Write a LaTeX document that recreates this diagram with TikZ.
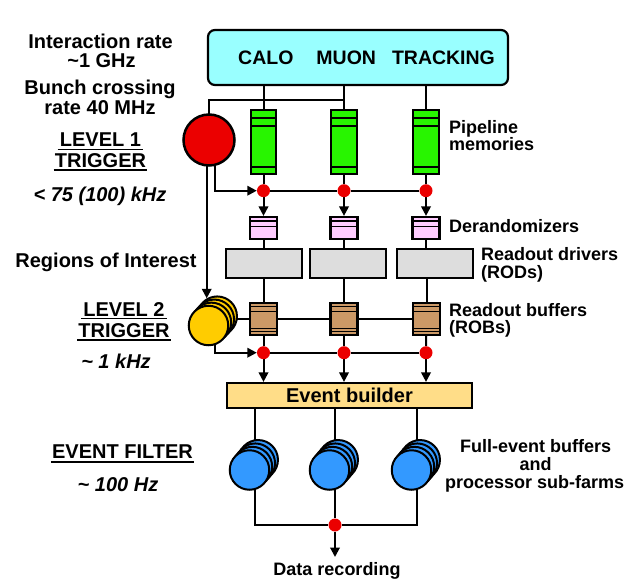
\documentclass[tikz,border=0pt]{standalone}
\usepackage{fontspec}
\setmainfont{Liberation Sans}
\usetikzlibrary{arrows.meta,calc}
\definecolor{detcyan}{RGB}{153,255,255}
\definecolor{pipegreen}{RGB}{40,245,0}
\definecolor{trigred}{RGB}{235,0,0}
\definecolor{derpink}{RGB}{255,204,255}
\definecolor{rodgray}{RGB}{221,221,221}
\definecolor{robbrown}{RGB}{204,153,102}
\definecolor{trigyellow}{RGB}{255,204,0}
\definecolor{ebfill}{RGB}{255,221,136}
\definecolor{farmblue}{RGB}{51,153,255}
\pgfdeclarelayer{bg}
\pgfsetlayers{bg,main}
\tikzset{
  conn/.style={line width=2pt},
  arr/.style={line width=2pt, -{Triangle[length=9.5pt,width=9.5pt]}},
  box/.style={draw, line width=2.2pt, inner sep=0pt},
  topbox/.style={box, fill=detcyan, rounded corners=7pt, minimum width=300pt, minimum height=55pt},
  pipe/.style={box, fill=pipegreen, minimum width=25.5pt, minimum height=64pt,
    path picture={
      \draw[line width=1.6pt] ([yshift=-8pt]path picture bounding box.north west) -- ([yshift=-8pt]path picture bounding box.north east);
      \draw[line width=1.6pt] ([yshift=-16pt]path picture bounding box.north west) -- ([yshift=-16pt]path picture bounding box.north east);
      \draw[line width=1.6pt] ([yshift=7pt]path picture bounding box.south west) -- ([yshift=7pt]path picture bounding box.south east);
    }},
  derand/.style={box, fill=derpink, minimum width=27pt, minimum height=22pt,
    path picture={
      \draw[line width=1.4pt] ([yshift=-4pt]path picture bounding box.north west) -- ([yshift=-4pt]path picture bounding box.north east);
      \draw[line width=1.4pt] ([yshift=-9.5pt]path picture bounding box.north west) -- ([yshift=-9.5pt]path picture bounding box.north east);
    }},
  rod/.style={box, fill=rodgray, minimum width=76pt, minimum height=29pt},
  rob/.style={box, fill=robbrown, minimum width=27pt, minimum height=32pt,
    path picture={
      \draw[line width=1.2pt] ([yshift=-4pt]path picture bounding box.north west) -- ([yshift=-4pt]path picture bounding box.north east);
      \draw[line width=1.2pt] ([yshift=-8.5pt]path picture bounding box.north west) -- ([yshift=-8.5pt]path picture bounding box.north east);
      \draw[line width=1.2pt] ([yshift=6pt]path picture bounding box.south west) -- ([yshift=6pt]path picture bounding box.south east);
      \draw[line width=1.2pt] ([yshift=3.5pt]path picture bounding box.south west) -- ([yshift=3.5pt]path picture bounding box.south east);
    }},
  ebox/.style={box, fill=ebfill, minimum width=245pt, minimum height=25pt, font=\fontsize{20}{22}\selectfont\bfseries},
  dot/.style={circle, fill=trigred, minimum size=13pt, inner sep=0pt},
  l1circ/.style={circle, draw, line width=2.5pt, fill=trigred, minimum size=51pt, inner sep=0pt},
  stackc/.style={circle, draw, line width=2pt, minimum size=39.5pt, inner sep=0pt},
  L/.style={font=\fontsize{20}{22}\selectfont\bfseries, inner sep=0pt, anchor=base},
  LI/.style={font=\fontsize{20}{22}\selectfont\bfseries\itshape, inner sep=0pt, anchor=base},
  R/.style={font=\fontsize{18}{20}\selectfont\bfseries, inner sep=0pt, anchor=base west},
  RC/.style={font=\fontsize{18}{20}\selectfont\bfseries, inner sep=0pt, anchor=base},
  ulline/.style={line width=1.5pt}
}
\newcommand\mystack[5]{%
  \foreach \kk in {3,2,1} {\node[stackc, fill=#4] (#1-\kk) at ({#2+2.9*\kk},{#3+#5*\kk}) {};}
  \node[stackc, fill=#4] (#1) at (#2,#3) {};
}
\begin{document}
\begin{tikzpicture}[x=1pt,y=-1pt]
\useasboundingbox (0,0) rectangle (642,586);

% detector box
\node[topbox] (det) at (358,57.5) {};
\node[font=\fontsize{19.5}{21}\selectfont\bfseries, inner sep=0pt, anchor=base west] (dettext) at (238,64) {CALO\hspace{23pt}MUON\hspace{16pt}TRACKING};

% pipelines
\node[pipe] (p1) at (263.5,142.2) {};
\node[pipe] (p2) at (344,142.2) {};
\node[pipe] (p3) at (426,142.2) {};

% level 1 trigger
\node[l1circ] (l1) at (209,140) {};

% first row of dots
\node[dot] (d11) at (263.5,190.7) {};
\node[dot] (d12) at (344,190.7) {};
\node[dot] (d13) at (426,190.7) {};

% derandomizers
\node[derand] (dr1) at (263.5,228) {};
\node[derand] (dr2) at (344,228) {};
\node[derand] (dr3) at (426,228) {};

% RODs
\node[rod] (rod1) at (263.7,263.8) {};
\node[rod] (rod2) at (347.7,263.8) {};
\node[rod] (rod3) at (434.7,263.8) {};

% ROBs
\node[rob] (rob1) at (263.5,318.8) {};
\node[rob] (rob2) at (344,318.8) {};
\node[rob] (rob3) at (426.5,318.8) {};

% level 2 trigger stack
\mystack{l2}{208.5}{325.5}{trigyellow}{-3.1}

% second row of dots
\node[dot] (d21) at (263.5,352.7) {};
\node[dot] (d22) at (344,352.7) {};
\node[dot] (d23) at (426,352.7) {};

% event builder
\node[ebox] (eb) at (349.5,395.5) {Event builder};

% event filter farms
\mystack{f1}{249.5}{470}{farmblue}{-3.4}
\mystack{f2}{329.5}{470}{farmblue}{-3.4}
\mystack{f3}{411.5}{470}{farmblue}{-3.4}

% bottom dot
\node[dot] (jd) at (335,525) {};

% helper coordinates
\coordinate (t1) at (209,100);
\coordinate (t2) at (344,100);
\coordinate (l1b) at (215,190.7);
\coordinate (l2in) at (206.7,298.3);
\coordinate (l2b) at (215,352.7);
\coordinate (s1) at (255,470);
\coordinate (s2) at (335,470);
\coordinate (s3) at (417,470);
\coordinate (out) at (335,557);

\begin{pgfonlayer}{bg}
  % detector to pipelines
  \draw[conn] (det.south -| p1) -- (p1);
  \draw[conn] (det.south -| p2) -- (p2);
  \draw[conn] (det.south -| p3) -- (p3);
  % inputs to level 1
  \draw[conn] (l1.center) -- (t1) -- (t2);
  % level 1 accept
  \draw[arr] (l1b |- l1.center) -- (l1b) -- (d11);
  \draw[conn] (d11) -- (d12) -- (d13);
  % pipelines to dots
  \draw[conn] (p1) -- (d11);
  \draw[conn] (p2) -- (d12);
  \draw[conn] (p3) -- (d13);
  % dots to derandomizers
  \draw[arr] (d11) -- (dr1);
  \draw[arr] (d12) -- (dr2);
  \draw[arr] (d13) -- (dr3);
  % derandomizers to RODs
  \draw[conn] (dr1) -- (dr1 |- rod1.north);
  \draw[conn] (dr2) -- (dr2 |- rod2.north);
  \draw[conn] (dr3) -- (dr3 |- rod3.north);
  % RODs to ROBs
  \draw[conn] (rob1 |- rod1.south) -- (rob1);
  \draw[conn] (rob2 |- rod2.south) -- (rob2);
  \draw[conn] (rob3 |- rod3.south) -- (rob3);
  % regions of interest
  \draw[arr] (l2in |- l1.center) -- (l2in);
  % level 2 to ROBs
  \draw[conn] (l2-3.center |- rob1.center) -- (rob3.center);
  % level 2 accept
  \draw[arr] (l2b |- l2.center) -- (l2b) -- (d21);
  \draw[conn] (d21) -- (d22) -- (d23);
  \draw[conn] (rob1) -- (d21);
  \draw[conn] (rob2) -- (d22);
  \draw[conn] (rob3) -- (d23);
  \draw[arr] (d21) -- (eb.north -| d21);
  \draw[arr] (d22) -- (eb.north -| d22);
  \draw[arr] (d23) -- (eb.north -| d23);
  % event builder to farms
  \draw[conn] (eb.south -| s1) -- (s1) -- (s1 |- jd) -- (jd);
  \draw[conn] (eb.south -| s2) -- (s2) -- (jd);
  \draw[conn] (eb.south -| s3) -- (s3) -- (s3 |- jd) -- (jd);
  \draw[arr] (jd) -- (out);
\end{pgfonlayer}

% left labels
\node[L] (ir1) at (100.5,48.3) {Interaction rate};
\node[L] (ir2) at (101.5,67) {\textasciitilde1 GHz};
\node[L] (bc1) at (100,94) {Bunch crossing};
\node[L] (bc2) at (100,114.3) {rate 40 MHz};
\node[L] (lv1a) at (100.5,146.7) {LEVEL 1};
\node[L] (lv1b) at (100.5,167.7) {TRIGGER};
\node[LI] (r1) at (100,201.3) {< 75 (100) kHz};
\node[L] (roi) at (106,267.3) {Regions of Interest};
\node[L] (lv2a) at (124,316) {LEVEL 2};
\node[L] (lv2b) at (124,337.3) {TRIGGER};
\node[LI] (r2) at (116,368.3) {\textasciitilde{} 1 kHz};
\node[L] (ef) at (122.5,458.3) {EVENT FILTER};
\node[LI] (r3) at (118,491) {\textasciitilde{} 100 Hz};
\draw[ulline] ([xshift=-2pt,yshift=-2.7pt]lv1a.base west) -- ([xshift=2pt,yshift=-2.7pt]lv1a.base east);
\draw[ulline] ([xshift=-1pt,yshift=-2.5pt]lv1b.base west) -- ([xshift=1pt,yshift=-2.5pt]lv1b.base east);
\draw[ulline] ([xshift=-2pt,yshift=-2.7pt]lv2a.base west) -- ([xshift=2pt,yshift=-2.7pt]lv2a.base east);
\draw[ulline] ([xshift=-1pt,yshift=-2.5pt]lv2b.base west) -- ([xshift=1pt,yshift=-2.5pt]lv2b.base east);
\draw[ulline] ([xshift=-1pt,yshift=-3.8pt]ef.base west) -- ([xshift=1pt,yshift=-3.8pt]ef.base east);

% right labels
\node[R] (pm1) at (449,133.3) {Pipeline};
\node[R] (pm2) at (449,150.7) {memories};
\node[R] (der) at (449,232.7) {Derandomizers};
\node[R] (rd1) at (481,260) {Readout drivers};
\node[R] (rd2) at (481,278) {(RODs)};
\node[R] (rb1) at (449,316.7) {Readout buffers};
\node[R] (rb2) at (449,333.5) {(ROBs)};
\node[RC] (fe1) at (535.7,452.7) {Full-event buffers};
\node[RC] (fe2) at (535.7,470.7) {and};
\node[RC] (fe3) at (534.7,488) {processor sub-farms};
\node[RC] (dat) at (337,575) {Data recording};
\end{tikzpicture}
\end{document}
